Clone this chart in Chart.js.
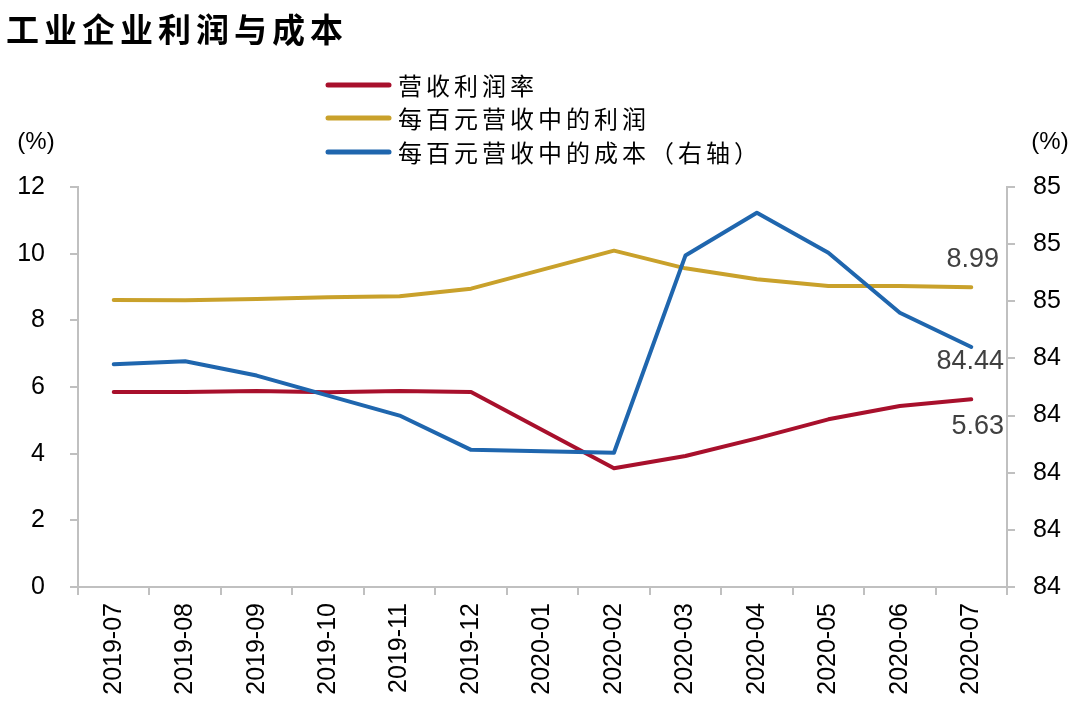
<!DOCTYPE html>
<html>
<head>
<meta charset="utf-8">
<script src="https://cdn.jsdelivr.net/npm/chart.js@4"></script>
<style>
  html, body { margin: 0; padding: 0; background: #fff; }
  #wrap { width: 1080px; height: 723px; position: relative; }
</style>
</head>
<body>
<div id="wrap"><canvas id="profit-cost"></canvas></div>
<script>
/** 工业企业利润与成本 **/

var categories = ['2019-07', '2019-08', '2019-09', '2019-10', '2019-11', '2019-12',
    '2020-01', '2020-02', '2020-03', '2020-04', '2020-05', '2020-06', '2020-07'];

// 2020-01 has no point (Jan-Feb reported together), the line spans the gap
var profitMargin = [5.85, 5.85, 5.88, 5.84, 5.88, 5.85, null, 3.56, 3.93, 4.46, 5.03, 5.43, 5.63];
var profitPer100 = [8.61, 8.60, 8.64, 8.69, 8.72, 8.95, null, 10.09, 9.56, 9.23, 9.03, 9.03, 8.99];
var costPer100 = [84.38, 84.39, 84.34, 84.27, 84.20, 84.08, null, 84.07, 84.76, 84.91, 84.77, 84.56, 84.44];

var seriesNames = ['营收利润率', '每百元营收中的利润', '每百元营收中的成本（右轴）'];

var leftTicks = { min: 0, max: 12, step: 2 };
var rightTicks = { min: 83.6, max: 85.0, step: 0.2 };

var RED = '#a8102c';
var GOLD = '#c9a12b';
var BLUE = '#1f66ae';
var AXIS = '#c0c0c0';

var annotate = {
    id: 'annotate',
    afterDraw: function (chart) {
        var ctx = chart.ctx;
        ctx.save();

        // title
        ctx.fillStyle = '#000';
        ctx.font = 'bold 33px "Noto Sans CJK SC"';
        ctx.letterSpacing = '5px';
        ctx.textBaseline = 'middle';
        ctx.textAlign = 'left';
        ctx.fillText('工业企业利润与成本', 6, 29);

        // legend
        ctx.font = '24px "Noto Sans CJK SC"';
        ctx.letterSpacing = '4px';
        var rows = [85, 118, 152];
        chart.data.datasets.forEach(function (ds, i) {
            ctx.strokeStyle = ds.borderColor;
            ctx.lineWidth = 5;
            ctx.lineCap = 'round';
            ctx.beginPath();
            ctx.moveTo(328, rows[i]);
            ctx.lineTo(389, rows[i]);
            ctx.stroke();
            ctx.fillStyle = '#000';
            ctx.fillText(ds.label, 398, rows[i] + 1);
        });

        // axis units
        ctx.letterSpacing = '0px';
        ctx.font = '24px "Liberation Sans", Arial';
        ctx.textAlign = 'center';
        ctx.fillText('(%)', 36, 142);
        ctx.fillText('(%)', 1050, 142);

        // end labels
        var last = categories.length - 1;
        ctx.font = '27px "Liberation Sans", Arial';
        ctx.fillStyle = '#404040';
        ctx.textAlign = 'right';
        ctx.fillText(profitPer100[last].toFixed(2), 999, chart.scales.yL.getPixelForValue(profitPer100[last]) - 28);
        ctx.fillText(costPer100[last].toFixed(2), 1004, chart.scales.yR.getPixelForValue(costPer100[last]) + 15);
        ctx.fillText(profitMargin[last].toFixed(2), 1004, chart.scales.yL.getPixelForValue(profitMargin[last]) + 27);
        ctx.restore();
    }
};

var canvas = document.getElementById('profit-cost');

var profitChart = new Chart(canvas, {
    type: 'line',
    data: {
        labels: categories,
        datasets: [{
            label: seriesNames[0],
            data: profitMargin,
            borderColor: RED,
            yAxisID: 'yL',
            order: 1
        }, {
            label: seriesNames[1],
            data: profitPer100,
            borderColor: GOLD,
            yAxisID: 'yL',
            order: 2
        }, {
            label: seriesNames[2],
            data: costPer100,
            borderColor: BLUE,
            yAxisID: 'yR',
            order: 0
        }]
    },
    options: {
        responsive: true,
        maintainAspectRatio: false,
        animation: false,
        spanGaps: true,
        layout: { padding: { top: 187, left: 0, right: 0, bottom: 0 } },
        elements: {
            line: { borderWidth: 4, tension: 0, borderCapStyle: 'round', borderJoinStyle: 'round' },
            point: { radius: 0, hoverRadius: 0 }
        },
        plugins: {
            legend: { display: false },
            tooltip: { enabled: false }
        },
        scales: {
            x: {
                offset: true,
                grid: { display: true, drawOnChartArea: false, offset: true, tickLength: 8, color: AXIS, lineWidth: 2 },
                border: { color: AXIS, width: 2 },
                ticks: {
                    color: '#000',
                    font: { family: '"Liberation Sans", Arial', size: 25 },
                    minRotation: 90,
                    maxRotation: 90,
                    padding: 8,
                    autoSkip: false
                },
                afterFit: function (scale) { scale.height = 136; }
            },
            yL: {
                position: 'left',
                min: leftTicks.min,
                max: leftTicks.max,
                grid: { display: true, drawOnChartArea: false, tickLength: 8, color: AXIS, lineWidth: 2 },
                border: { color: AXIS, width: 2 },
                ticks: {
                    stepSize: leftTicks.step,
                    color: '#000',
                    padding: 25,
                    font: { family: '"Liberation Sans", Arial', size: 25 }
                },
                afterFit: function (scale) { scale.width = 78; }
            },
            yR: {
                position: 'right',
                min: rightTicks.min,
                max: rightTicks.max,
                grid: { display: true, drawOnChartArea: false, tickLength: 8, color: AXIS, lineWidth: 2 },
                border: { color: AXIS, width: 2 },
                ticks: {
                    stepSize: rightTicks.step,
                    color: '#000',
                    padding: 18,
                    font: { family: '"Liberation Sans", Arial', size: 25 },
                    callback: function (value) { return Math.round(value).toString(); }
                },
                afterFit: function (scale) { scale.width = 73; }
            }
        }
    },
    plugins: [annotate]
});
</script>
</body>
</html>
